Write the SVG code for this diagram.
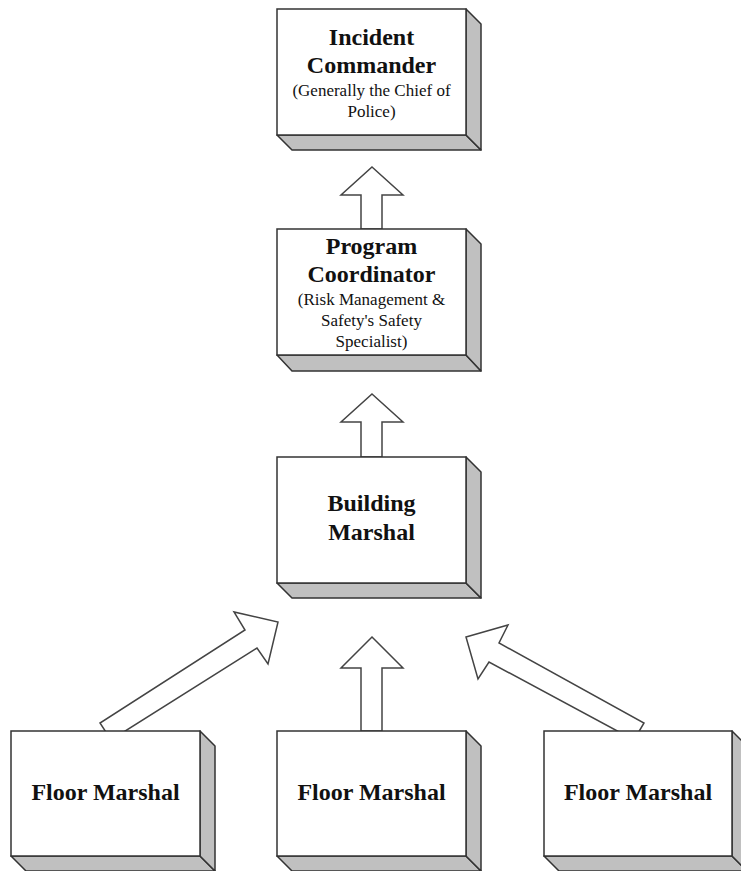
<svg xmlns="http://www.w3.org/2000/svg" width="741" height="871" viewBox="0 0 741 871">
<style>
.face{fill:#ffffff;stroke:#333333;stroke-width:1.5}
.side{fill:#c0c0c0;stroke:#333333;stroke-width:1.5;stroke-linejoin:round}
.arrow{fill:#ffffff;stroke:#444444;stroke-width:1.5;stroke-linejoin:miter}
.t{font-family:"Liberation Serif","Times New Roman",serif;fill:#111111;text-anchor:middle}
.b{font-size:24px;font-weight:bold}
.s{font-size:17px}
</style>
<rect width="741" height="871" fill="#ffffff"/>
<g id="connectors">
<polygon class="arrow" points="372,167 403,195 382,195 382,229 361,229 361,195 341,195"/>
<polygon class="arrow" points="372,394 403,422 382,422 382,457 361,457 361,422 341,422"/>
<polygon class="arrow" points="372,637 403,668 382,668 382,731 361,731 361,668 341,668"/>
<polygon class="arrow" points="278,622 268,664 257,648 111,740 100,723 245,630 234,612"/>
<polygon class="arrow" points="466,637 508,625 499,643 644,723 634,740 489,662 478,679"/>
</g>
<g id="incident-commander">
<polygon class="side" points="277,135 466,135 481,150 292,150"/>
<polygon class="side" points="466,9 481,24 481,150 466,135"/>
<rect class="face" x="277" y="9" width="189" height="126"/>
<text class="t b" x="371.5" y="45">Incident</text>
<text class="t b" x="371.5" y="73">Commander</text>
<text class="t s" x="371.5" y="96">(Generally the Chief of</text>
<text class="t s" x="371.5" y="117">Police)</text>
</g>
<g id="program-coordinator">
<polygon class="side" points="277,355 466,355 481,371 292,371"/>
<polygon class="side" points="466,229 481,244 481,371 466,355"/>
<rect class="face" x="277" y="229" width="189" height="126"/>
<text class="t b" x="371.5" y="254">Program</text>
<text class="t b" x="371.5" y="282">Coordinator</text>
<text class="t s" x="371.5" y="305">(Risk Management &amp;</text>
<text class="t s" x="371.5" y="326">Safety's Safety</text>
<text class="t s" x="371.5" y="347">Specialist)</text>
</g>
<g id="building-marshal">
<polygon class="side" points="277,583 466,583 481,598 292,598"/>
<polygon class="side" points="466,457 481,472 481,598 466,583"/>
<rect class="face" x="277" y="457" width="189" height="126"/>
<text class="t b" x="371.5" y="511">Building</text>
<text class="t b" x="371.5" y="540">Marshal</text>
</g>
<g id="floor-marshal-left">
<polygon class="side" points="11,856 200,856 215,871 26,871"/>
<polygon class="side" points="200,731 215,746 215,871 200,856"/>
<rect class="face" x="11" y="731" width="189" height="125"/>
<text class="t b" x="105.5" y="800">Floor Marshal</text>
</g>
<g id="floor-marshal-center">
<polygon class="side" points="277,856 466,856 481,871 292,871"/>
<polygon class="side" points="466,731 481,746 481,871 466,856"/>
<rect class="face" x="277" y="731" width="189" height="125"/>
<text class="t b" x="371.5" y="800">Floor Marshal</text>
</g>
<g id="floor-marshal-right">
<polygon class="side" points="544,856 732,856 747,871 559,871"/>
<polygon class="side" points="732,731 747,746 747,871 732,856"/>
<rect class="face" x="544" y="731" width="188" height="125"/>
<text class="t b" x="638" y="800">Floor Marshal</text>
</g>
</svg>
